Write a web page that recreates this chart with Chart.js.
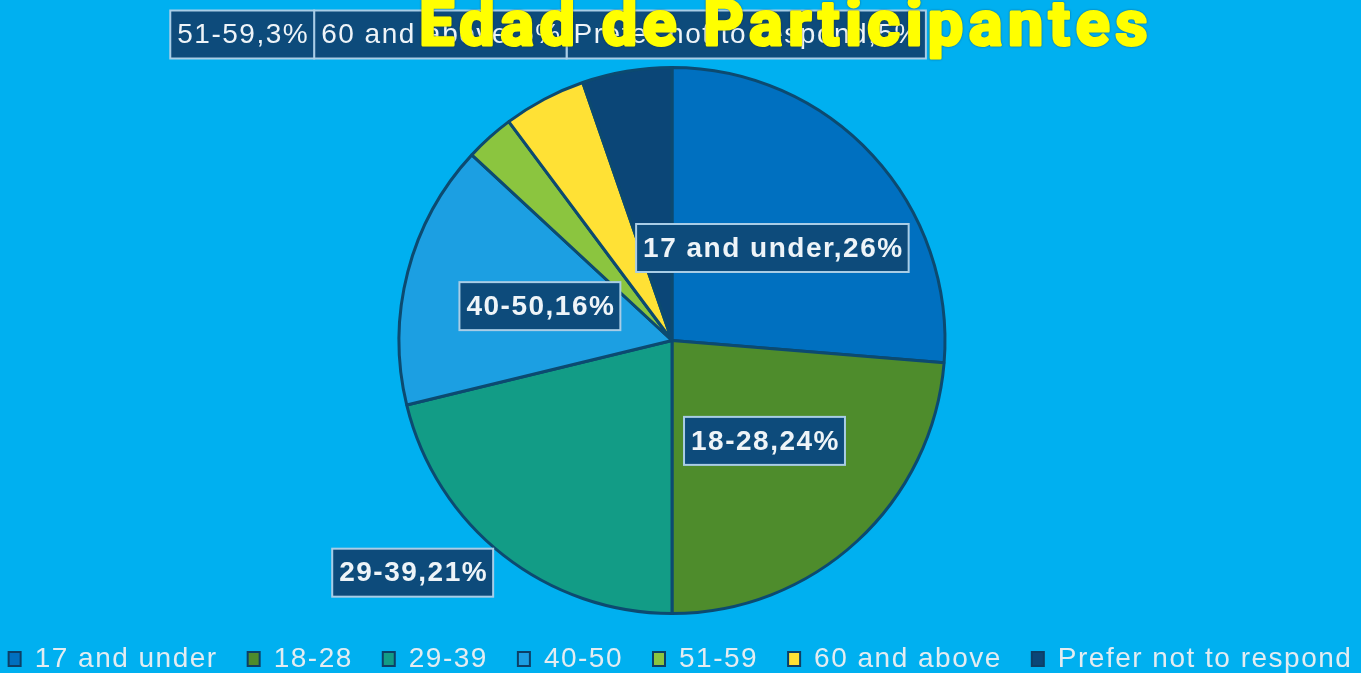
<!DOCTYPE html>
<html lang="es">
<head>
<meta charset="UTF-8">
<title>Edad de Participantes</title>
<script src="https://cdn.jsdelivr.net/npm/chart.js"></script>
<style>
  html, body { margin: 0; padding: 0; background: #00b0f0; }
  .master { width: 1361px; height: 673px; }
</style>
</head>
<body>
<div class="master">
  <canvas id="myChart" width="1361" height="673"></canvas>
</div>
<script>
// data
const ageGroups = ['17 and under', '18-28', '29-39', '40-50', '51-59', '60 and above', 'Prefer not to respond'];
const sharePct = [26.3, 23.7, 21.2, 15.7, 2.9, 4.9, 5.3];
const sliceColors = ['#0070c0', '#4e8c2c', '#129c86', '#1c9fe2', '#8bc53f', '#ffe135', '#0b4677'];
const chartTitle = 'Edad de Participantes';

const total = sharePct.reduce((a, b) => a + b, 0);
const SPACING = '1.5px';

// the export has loose letter spacing everywhere, legend included
const spacingPlugin = {
    id: 'spacing',
    beforeLayout(chart) { chart.ctx.letterSpacing = SPACING; },
    afterLayout(chart) {
        // negative layout padding lets the legend run wide and low,
        // pull the pie area back in (and a bit left of the middle)
        const a = chart.chartArea;
        a.left += 25;
        a.right -= 25 + 17;
        a.width = a.right - a.left;
        a.height = a.bottom - a.top;
    },
    beforeDraw(chart) { chart.ctx.letterSpacing = SPACING; }
};

// label boxes like the excel export: most sit inside the slice,
// 29-39 is pushed outside, the small ones pile up in a row on top
const labelPlugin = {
    id: 'boxLabels',
    afterDatasetsDraw(chart) {
        const ctx = chart.ctx;
        const meta = chart.getDatasetMeta(0);
        const arc0 = meta.data[0];
        const cx = arc0.x, cy = arc0.y, R = arc0.outerRadius;
        ctx.save();
        ctx.letterSpacing = SPACING;
        ctx.textBaseline = 'middle';
        ctx.textAlign = 'center';
        const padX = 6, h = 48;
        const boldFont = 'bold 28px "Liberation Sans", Arial, sans-serif';
        const plainFont = '28px "Liberation Sans", Arial, sans-serif';

        function box(text, x, y) {
            const w = ctx.measureText(text).width + padX * 2;
            ctx.fillStyle = '#0d4b7b';
            ctx.fillRect(x - w / 2, y - h / 2, w, h);
            ctx.strokeStyle = '#a9cde6';
            ctx.lineWidth = 2;
            ctx.strokeRect(x - w / 2, y - h / 2, w, h);
            ctx.fillStyle = '#eef4f8';
            ctx.fillText(text, x + 1, y + 1);
            return w;
        }
        function textOf(i) {
            return ageGroups[i] + ',' + Math.round(sharePct[i] / total * 100) + '%';
        }

        ctx.font = boldFont;
        const inside = { 0: [0, 0.5], 1: [0, 0.5], 2: [10, 1.275], 3: [0, 0.5] };
        meta.data.forEach((arc, i) => {
            if (!(i in inside)) return;
            const [shift, ratio] = inside[i];
            const a = (arc.startAngle + arc.endAngle) / 2 + shift * Math.PI / 180;
            box(textOf(i), cx + Math.cos(a) * R * ratio, cy + Math.sin(a) * R * ratio);
        });

        // top row, right to left
        ctx.font = plainFont;
        let right = cx + R * 0.93;
        const rowY = cy - R - 33;
        for (let i = ageGroups.length - 1; i >= 4; i--) {
            const w = ctx.measureText(textOf(i)).width + padX * 2;
            box(textOf(i), right - w / 2, rowY);
            right -= w;
        }
        ctx.restore();
    },
    afterDraw(chart) {
        const ctx = chart.ctx;
        const arc0 = chart.getDatasetMeta(0).data[0];
        ctx.save();
        ctx.letterSpacing = '5.5px';
        ctx.font = 'bold 63px Roboto, "Liberation Sans", sans-serif';
        ctx.textAlign = 'center';
        ctx.textBaseline = 'alphabetic';
        ctx.shadowColor = 'rgba(20,30,40,0.55)';
        ctx.shadowBlur = 2;
        ctx.fillStyle = '#ffff00';
        ctx.strokeStyle = '#ffff00';
        ctx.lineWidth = 3;
        ctx.lineJoin = 'round';
        ctx.strokeText(chartTitle, arc0.x + 114, 45);
        ctx.shadowColor = 'transparent';
        ctx.fillText(chartTitle, arc0.x + 114, 45);
        ctx.restore();
    }
};

const ctx = document.getElementById('myChart').getContext('2d');
const myChart = new Chart(ctx, {
    type: 'pie',
    data: {
        labels: ageGroups,
        datasets: [{
            data: sharePct,
            backgroundColor: sliceColors,
            borderColor: '#0c4a70',
            borderWidth: 3
        }]
    },
    options: {
        responsive: false,
        animation: false,
        layout: { padding: { top: 66, left: -25, right: -25, bottom: -10 } },
        plugins: {
            tooltip: { enabled: false },
            title: { display: false },
            legend: {
                position: 'bottom',
                labels: {
                    color: '#e3ecf1',
                    font: { family: '"Liberation Sans", Arial, sans-serif', size: 28 },
                    boxWidth: 12,
                    boxHeight: 14,
                    padding: 30,
                    generateLabels(chart) {
                        const items = Chart.overrides.pie.plugins.legend.labels.generateLabels(chart);
                        items.forEach(it => { it.lineWidth = 2; it.strokeStyle = '#0c3f66'; });
                        return items;
                    }
                }
            }
        }
    },
    plugins: [spacingPlugin, labelPlugin]
});
</script>
</body>
</html>
